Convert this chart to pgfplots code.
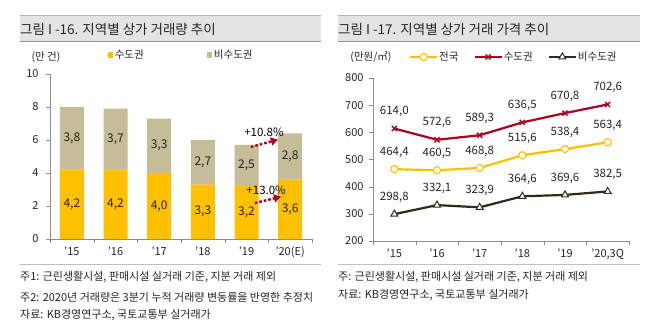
\documentclass[border=0pt]{standalone}
\usepackage{pgfplots}
\pgfplotsset{compat=1.18}
\usepackage{fontspec}
\setmainfont{Noto Sans CJK KR}
\usetikzlibrary{arrows.meta}
\definecolor{barY}{HTML}{FFC000}
\definecolor{barG}{HTML}{C4BD97}
\definecolor{lineY}{HTML}{FFC000}
\definecolor{lineR}{HTML}{B00020}
\definecolor{lineK}{HTML}{2E2B1C}
\definecolor{txt}{HTML}{262626}
\definecolor{axisg}{HTML}{8C8C8C}
\definecolor{ttlbg}{HTML}{E4E4E4}
\definecolor{arrR}{HTML}{B00020}
\begin{document}
\begin{tikzpicture}[x=1pt,y=1pt]
\useasboundingbox (0,0) rectangle (658,331);
\fill[white] (0,0) rectangle (658,331);
% title bars
\fill[ttlbg] (20,289) rectangle (321,316);
\draw[gray!60, line width=0.6pt] (20,316) -- (321,316);
\draw[gray!80, line width=1pt] (20,289) -- (321,289);
\node[anchor=west, font=\fontsize{13.5}{15}\selectfont, text=txt, inner sep=0] at (20,302) {그림 I -16. 지역별 상가 거래량 추이};
\fill[ttlbg] (338,289) rectangle (640,316);
\draw[gray!60, line width=0.6pt] (338,316) -- (640,316);
\draw[gray!80, line width=1pt] (338,289) -- (640,289);
\node[anchor=west, font=\fontsize{13.5}{15}\selectfont, text=txt, inner sep=0] at (338,302) {그림 I -17. 지역별 상가 거래 가격 추이};
% bottom lines
\draw[gray!50, line width=1pt] (20,66) -- (321,66);
\draw[gray!50, line width=1pt] (338,66) -- (640,66);
% notes
\begin{scope}[every node/.style={anchor=west, font=\fontsize{11}{12}\selectfont, text=txt, inner sep=0}]
\node at (20,54) {주1: 근린생활시설, 판매시설 실거래 기준, 지분 거래 제외};
\node at (20,34) {주2: 2020년 거래량은 3분기 누적 거래량 변동률을 반영한 추정치};
\node at (20,16) {자료: KB경영연구소, 국토교통부 실거래가};
\node at (338,54) {주: 근린생활시설, 판매시설 실거래 기준, 지분 거래 제외};
\node at (338,36) {자료: KB경영연구소, 국토교통부 실거래가};
\end{scope}
% unit labels
\node[font=\fontsize{10.5}{12}\selectfont, text=txt, inner sep=0] at (46,274) {(만 건)};
\node[font=\fontsize{10.5}{12}\selectfont, text=txt, inner sep=0] at (371,274) {(만원/㎡)};

% ---------- left: stacked bars ----------
\begin{axis}[at={(50pt,92pt)}, anchor=south west, scale only axis,
  width=262pt, height=165pt,
  xmin=-0.5, xmax=5.5, ymin=0, ymax=10,
  axis x line*=bottom, axis y line*=left, axis line style={axisg, -},
  ytick={0,2,...,10},
  xtick={0,...,5}, xticklabels={’15,’16,’17,’18,’19,’20(E)},
  minor xtick={-0.5,0.5,...,5.5},
  major x tick style={draw=none}, minor x tick style={axisg},
  y tick style={axisg},
  tick align=outside, major tick length=4pt, minor tick length=4pt,
  ticklabel style={font=\fontsize{11}{13}\selectfont, text=txt},
  yticklabel style={xshift=-4pt},
  /pgf/number format/assume math mode=true,
  ybar stacked, bar width=24pt,
  legend image code/.code={\fill[#1] (0pt,-2.6pt) rectangle (5.2pt,2.6pt);},
  legend style={at={(0.221,1.115)}, anchor=west, draw=none, fill=none,
    font=\fontsize{10.5}{12}\selectfont, text=txt, inner sep=0pt,
    legend columns=2, /tikz/every even column/.append style={column sep=62pt},
    nodes={inner sep=1.5pt}},
]
\addplot[fill=barY, draw=none] coordinates {(0,4.2) (1,4.2) (2,4.0) (3,3.3) (4,3.2) (5,3.6)};
\addplot[fill=barG, draw=none] coordinates {(0,3.8) (1,3.7) (2,3.3) (3,2.7) (4,2.5) (5,2.8)};
\legend{수도권, 비수도권}
\end{axis}
% overlay for labels
\begin{axis}[at={(50pt,92pt)}, anchor=south west, scale only axis,
  width=262pt, height=165pt,
  xmin=-0.5, xmax=5.5, ymin=0, ymax=10, hide axis,
  nodes near coords, point meta=explicit symbolic,
  every node near coord/.append style={font=\fontsize{12}{14}\selectfont, text=txt, anchor=center},
]
\addplot[draw=none, mark=none] table[meta=lab] {
x y lab
0 2.1 4,2
1 2.1 4,2
2 2.0 4,0
3 1.65 3,3
4 1.6 3,2
5 1.8 3,6
};
\addplot[draw=none, mark=none] table[meta=lab] {
x y lab
0 6.1 3,8
1 6.05 3,7
2 5.65 3,3
3 4.65 2,7
4 4.45 2,5
5 5.0 2,8
};
\draw[arrR, line width=2.4pt, dash pattern=on 2.6pt off 2pt, -{Triangle[length=7pt,width=8pt]}] (axis cs:4.1,5.58) -- (axis cs:4.72,6.02);
\draw[arrR, line width=2.4pt, dash pattern=on 2.6pt off 2pt, -{Triangle[length=7pt,width=8pt]}] (axis cs:4.19,2.18) -- (axis cs:4.79,2.56);
\node[font=\fontsize{11.5}{13}\selectfont, text=black] at (axis cs:4.4,6.45) {+10.8\%};
\node[font=\fontsize{11.5}{13}\selectfont, text=black] at (axis cs:4.45,2.97) {+13.0\%};
\end{axis}

% ---------- right: lines ----------
\begin{axis}[at={(373pt,90pt)}, anchor=south west, scale only axis,
  width=256pt, height=163pt,
  xmin=-0.5, xmax=5.5, ymin=200, ymax=800,
  axis x line*=bottom, axis y line*=left, axis line style={axisg, -},
  ytick={200,300,...,800},
  xtick={0,...,5}, xticklabels={’15,’16,’17,’18,’19,’20{,}3Q},
  minor xtick={-0.5,0.5,...,5.5},
  major x tick style={draw=none}, minor x tick style={axisg},
  y tick style={axisg},
  tick align=outside, major tick length=4pt, minor tick length=4pt,
  ticklabel style={font=\fontsize{11}{13}\selectfont, text=txt},
  yticklabel style={xshift=-2pt},
  /pgf/number format/assume math mode=true,
  nodes near coords, point meta=explicit symbolic,
  every node near coord/.append style={font=\fontsize{11.5}{13}\selectfont, text=txt, anchor=center, yshift=17pt},
  legend image code/.code={\draw[mark repeat=2,mark phase=2,#1] plot coordinates {(0pt,0pt) (13.5pt,0pt) (27pt,0pt)};},
  legend style={at={(0.14,1.129)}, anchor=west, draw=none, fill=none,
    font=\fontsize{10.5}{12}\selectfont, text=txt, inner sep=0pt,
    legend columns=3, /tikz/every even column/.append style={column sep=14pt},
    nodes={inner sep=1pt}},
]
\addplot[lineY, line width=2.2pt, mark=*, mark size=3.6pt, mark options={fill=white, draw=lineY, line width=1.1pt}] table[meta=lab] {
x y lab
0 464.4 464,4
1 460.5 460,5
2 468.8 468,8
3 515.6 515,6
4 538.4 538,4
5 563.4 563,4
};
\addplot[lineR, line width=2.2pt, mark=x, mark size=3.6pt, mark options={draw=lineR, line width=1.4pt}] table[meta=lab] {
x y lab
0 614.0 614,0
1 572.6 572,6
2 589.3 589,3
3 636.5 636,5
4 670.8 670,8
5 702.6 702,6
};
\addplot[lineK, line width=2.2pt, mark=triangle*, mark size=4pt, mark options={fill=white, draw=lineK, line width=1.0pt}] table[meta=lab] {
x y lab
0 298.8 298,8
1 332.1 332,1
2 323.9 323,9
3 364.6 364,6
4 369.6 369,6
5 382.5 382,5
};
\legend{전국, 수도권, 비수도권}
\end{axis}
\end{tikzpicture}
\end{document}
